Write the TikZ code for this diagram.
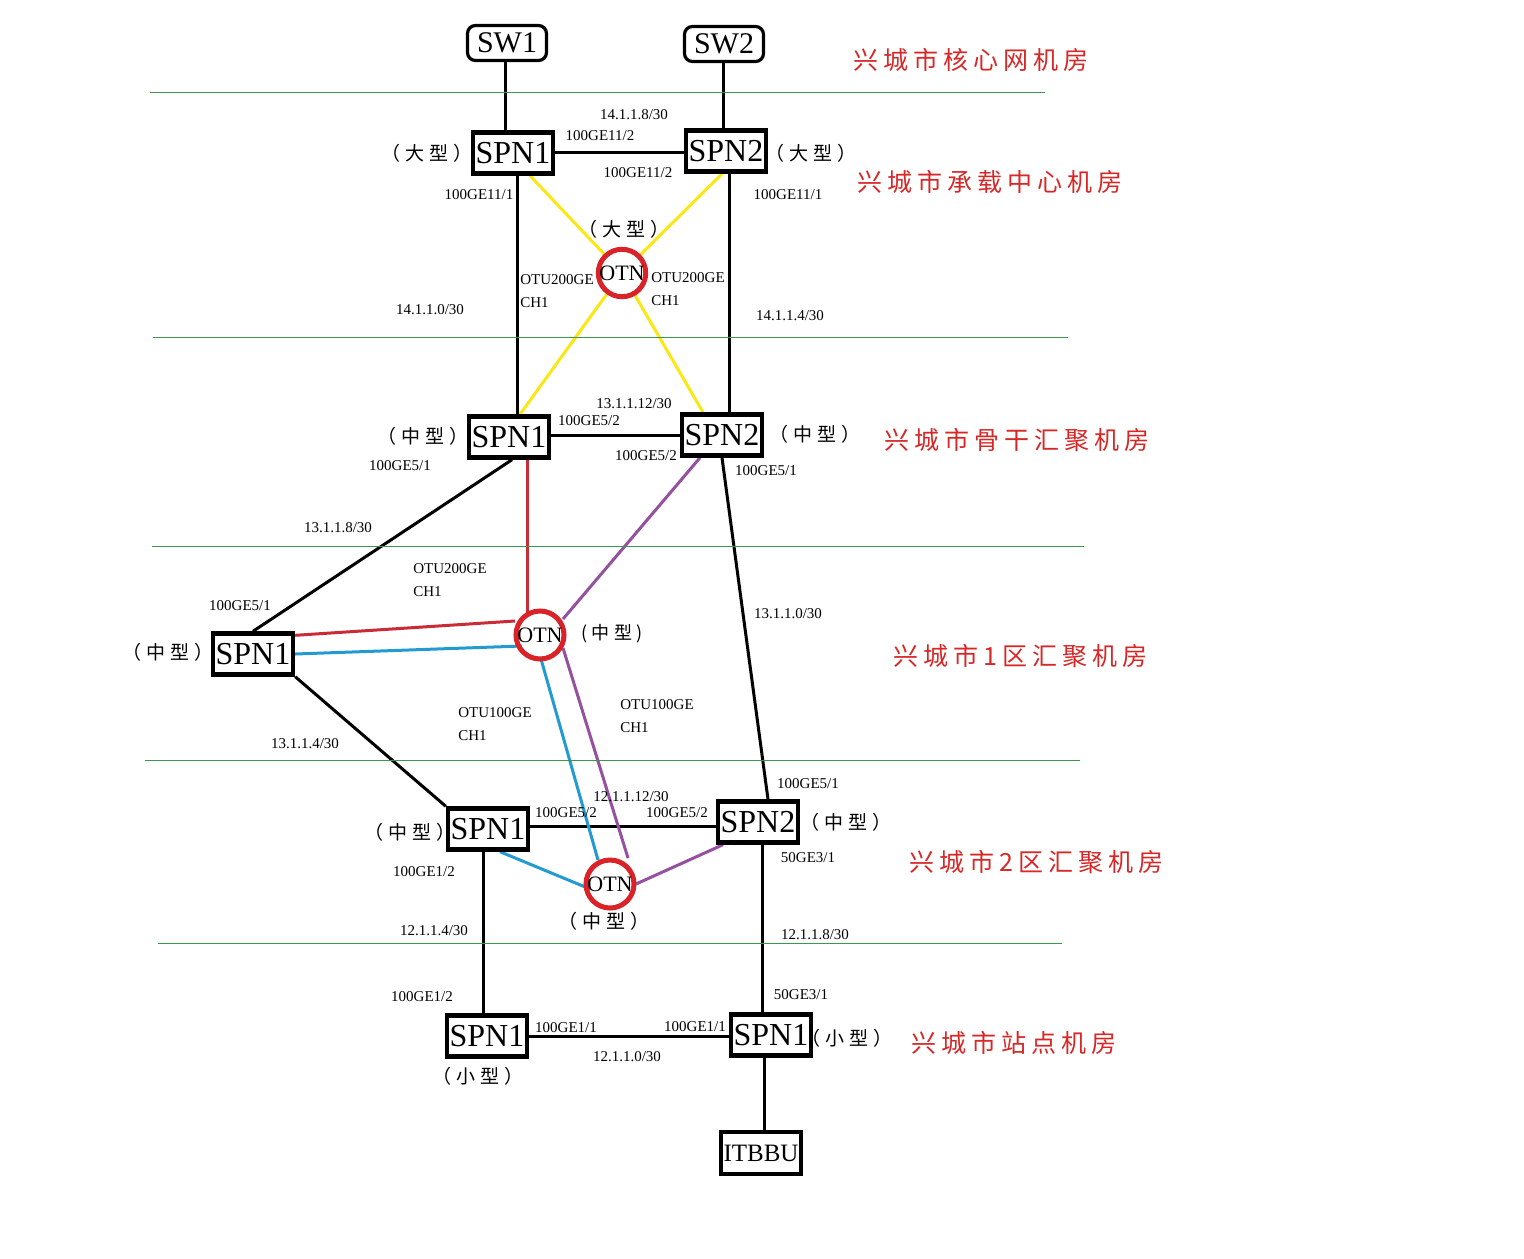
\documentclass[tikz,border=0pt]{standalone}
\usepackage{fontspec}
\setmainfont{Liberation Serif}
\newfontfamily\cjk{Noto Sans CJK SC}[LetterSpace=25]
\newfontfamily\cjkls{Noto Sans CJK SC}[LetterSpace=20]
\usetikzlibrary{backgrounds}
\definecolor{lnyellow}{RGB}{250,232,20}
\definecolor{lnred}{RGB}{200,45,55}
\definecolor{otnred}{RGB}{218,35,40}
\definecolor{lnpurple}{RGB}{150,80,160}
\definecolor{lnblue}{RGB}{35,155,210}
\definecolor{zonegreen}{RGB}{60,150,80}
\definecolor{txtred}{RGB}{215,40,40}
\tikzset{
  dev/.style={draw, line width=2.2pt, inner sep=0pt, minimum width=40pt, minimum height=20.5pt, font=\fontsize{16pt}{18pt}\selectfont},
  swbox/.style={draw, line width=1.6pt, rounded corners=4pt, inner sep=0pt, minimum width=39.5pt, minimum height=17.5pt, font=\fontsize{15pt}{17pt}\selectfont},
  otn/.style={circle, draw=otnred, line width=2.5pt, inner sep=0pt, minimum size=24pt, font=\fontsize{11pt}{12pt}\selectfont},
  lbl/.style={inner sep=0pt, font=\fontsize{7.5pt}{9pt}\selectfont},
  lblw/.style={lbl, anchor=west},
  typ/.style={inner sep=0pt, font=\cjk\fontsize{9.5pt}{11pt}\selectfont},
  zone/.style={inner sep=0pt, anchor=west, text=txtred, font=\cjkls\fontsize{12.5pt}{14pt}\selectfont},
  link/.style={line width=1.5pt},
  zline/.style={draw=zonegreen, line width=0.5pt}
}
\begin{document}
\begin{tikzpicture}[x=0.5pt,y=-0.5pt]
\useasboundingbox (0,0) rectangle (1524,1258);
% zone dividers
\draw[zline] (150,92) -- (1045,92);
\draw[zline] (153,337) -- (1068,337);
\draw[zline] (152,546) -- (1084,546);
\draw[zline] (145,760) -- (1080,760);
\draw[zline] (158,943) -- (1062,943);
% devices
\node[swbox] (sw1) at (507,43) {SW1};
\node[swbox] (sw2) at (724,44) {SW2};
\node[dev] (a1) at (513,153) {SPN1};
\node[dev] (a2) at (726,151) {SPN2};
\node[otn, minimum size=22.5pt] (otnA) at (622,273) {OTN};
\node[dev] (b1) at (509,437) {SPN1};
\node[dev] (b2) at (722,435) {SPN2};
\node[otn] (otnB) at (540,635) {OTN};
\node[dev] (c1) at (253,654) {SPN1};
\node[dev] (d1) at (488,829) {SPN1};
\node[dev] (d2) at (758,822) {SPN2};
\node[otn] (otnC) at (610,884) {OTN};
\node[dev] (e1) at (487,1036) {SPN1};
\node[dev] (e2) at (771,1035) {SPN1};
\node[dev, minimum height=21pt, font=\fontsize{12.5pt}{14pt}\selectfont] (bbu) at (761,1153) {ITBBU};
% connectors
\begin{pgfonlayer}{background}
\fill[white] (0,0) rectangle (1524,1258);
\draw[link] ([xshift=-1pt]sw1.south) -- ([xshift=-1pt]sw1.south |- a1.north);
\draw[link] ([xshift=-0.5pt]sw2.south) -- ([xshift=-0.5pt]sw2.south |- a2.north);
\draw[link] ([yshift=0.5pt]a1.east) -- ([yshift=0.5pt]a1.east -| a2.west);
\draw[link] ([xshift=2pt]a1.south) -- ([xshift=2pt]a1.south |- b1.north);
\draw[link] ([xshift=1.5pt]a2.south) -- ([xshift=1.5pt]a2.south |- b2.north);
\draw[link, lnyellow] ([xshift=8.5pt]a1.south) -- (otnA);
\draw[link, lnyellow] (otnA) -- ([xshift=-9.5pt]b2.north);
\draw[link, lnyellow] ([xshift=-2pt]a2.south) -- (otnA);
\draw[link, lnyellow] (otnA) -- ([xshift=5.5pt]b1.north);
\draw[link] ([yshift=1pt]b1.east) -- ([yshift=1pt]b1.east -| b2.west);
\draw[link, lnred] ([xshift=9pt]b1.south) -- ([xshift=-6.5pt,yshift=10pt]otnB.center);
\draw[link, lnred] ([xshift=-12.5pt,yshift=7pt]otnB.center) -- ([yshift=-2pt]c1.north east);
\draw[link, lnblue] (c1.east) -- ([xshift=-9pt,yshift=-5.5pt]otnB.center);
\draw[link, lnpurple] ([xshift=-11pt]b2.south) -- ([xshift=11.5pt,yshift=8pt]otnB.center);
\draw[link] ([xshift=1.5pt]b1.south) -- (c1.north);
\draw[link] (b2.south) -- ([xshift=5pt]d2.north);
\draw[link] (c1.south east) -- (d1.north west);
\draw[link] ([yshift=1.5pt]d1.east) -- ([yshift=1.5pt]d1.east -| d2.west);
\draw[link, lnblue] ([xshift=0.5pt,yshift=-12pt]otnB.center) -- ([xshift=-6pt,yshift=12pt]otnC.center);
\draw[link, lnpurple] ([xshift=11.5pt,yshift=-6.5pt]otnB.center) -- ([xshift=9pt,yshift=13pt]otnC.center);
\draw[link, lnblue] ([xshift=6pt]d1.south) -- ([xshift=-10pt,yshift=-2.5pt]otnC.center);
\draw[link, lnpurple] ([xshift=-17.5pt]d2.south) -- ([xshift=13pt]otnC.center);
\draw[link] ([xshift=-2.5pt]d1.south) -- ([xshift=-2.5pt]d1.south |- e1.north);
\draw[link] ([xshift=2pt]d2.south) -- ([xshift=2pt]d2.south |- e2.north);
\draw[link] (e1.east) -- (e1.east -| e2.west);
\draw[link] ([xshift=-3.5pt]e2.south) -- ([xshift=-3.5pt]e2.south |- bbu.north);
\end{pgfonlayer}
% port / subnet labels
\node[lbl] (t1) at (634,115) {14.1.1.8/30};
\node[lbl] (t2) at (600,136) {100GE11/2};
\node[lbl] (t3) at (638,173) {100GE11/2};
\node[lbl] (t4) at (479,195) {100GE11/1};
\node[lbl] (t5) at (788,195) {100GE11/1};
\node[lblw] (t6) at (520,280) {OTU200GE};
\node[lblw] (t7) at (520,303) {CH1};
\node[lblw] (t8) at (651,278) {OTU200GE};
\node[lblw] (t9) at (651,301) {CH1};
\node[lbl] (t10) at (430,310) {14.1.1.0/30};
\node[lbl] (t11) at (790,316) {14.1.1.4/30};
\node[lbl] (t12) at (634,404) {13.1.1.12/30};
\node[lbl] (t13) at (589,421) {100GE5/2};
\node[lbl] (t14) at (646,456) {100GE5/2};
\node[lbl] (t15) at (400,466) {100GE5/1};
\node[lbl] (t16) at (766,471) {100GE5/1};
\node[lbl] (t17) at (338,528) {13.1.1.8/30};
\node[lblw] (t18) at (413,569) {OTU200GE};
\node[lblw] (t19) at (413,592) {CH1};
\node[lbl] (t20) at (240,606) {100GE5/1};
\node[lbl] (t21) at (788,614) {13.1.1.0/30};
\node[lblw] (t22) at (458,713) {OTU100GE};
\node[lblw] (t23) at (458,736) {CH1};
\node[lblw] (t24) at (620,705) {OTU100GE};
\node[lblw] (t25) at (620,728) {CH1};
\node[lbl] (t26) at (305,744) {13.1.1.4/30};
\node[lbl] (t27) at (808,784) {100GE5/1};
\node[lbl] (t28) at (631,797) {12.1.1.12/30};
\node[lbl] (t29) at (566,813) {100GE5/2};
\node[lbl] (t30) at (677,813) {100GE5/2};
\node[lbl] (t31) at (808,858) {50GE3/1};
\node[lbl] (t32) at (424,872) {100GE1/2};
\node[lbl] (t33) at (434,931) {12.1.1.4/30};
\node[lbl] (t34) at (815,935) {12.1.1.8/30};
\node[lbl] (t35) at (422,997) {100GE1/2};
\node[lbl] (t36) at (801,995) {50GE3/1};
\node[lbl] (t37) at (566,1028) {100GE1/1};
\node[lbl] (t38) at (695,1027) {100GE1/1};
\node[lbl] (t39) at (627,1057) {12.1.1.0/30};
% type labels
\node[typ] (y1) at (427,153) {（大型）};
\node[typ] (y2) at (811,153) {（大型）};
\node[typ] (y3) at (624,229) {（大型）};
\node[typ] (y4) at (423,436) {（中型）};
\node[typ] (y5) at (815,434) {（中型）};
\node[typ] (y6) at (168,652) {（中型）};
\node[typ, font=\cjk\fontsize{9pt}{10pt}\selectfont] (y7) at (612,634) {(中型)};
\node[typ] (y8) at (410,832) {（中型）};
\node[typ] (y9) at (846,822) {（中型）};
\node[typ] (y10) at (604,921) {（中型）};
\node[typ] (y11) at (478,1076) {（小型）};
\node[typ] (y12) at (847,1038) {（小型）};
% zone labels
\node[zone] (z1) at (853,60) {兴城市核心网机房};
\node[zone] (z2) at (857,182) {兴城市承载中心机房};
\node[zone] (z3) at (884,440) {兴城市骨干汇聚机房};
\node[zone] (z4) at (893,656) {兴城市1区汇聚机房};
\node[zone] (z5) at (909,862) {兴城市2区汇聚机房};
\node[zone] (z6) at (911,1043) {兴城市站点机房};
\end{tikzpicture}
\end{document}
